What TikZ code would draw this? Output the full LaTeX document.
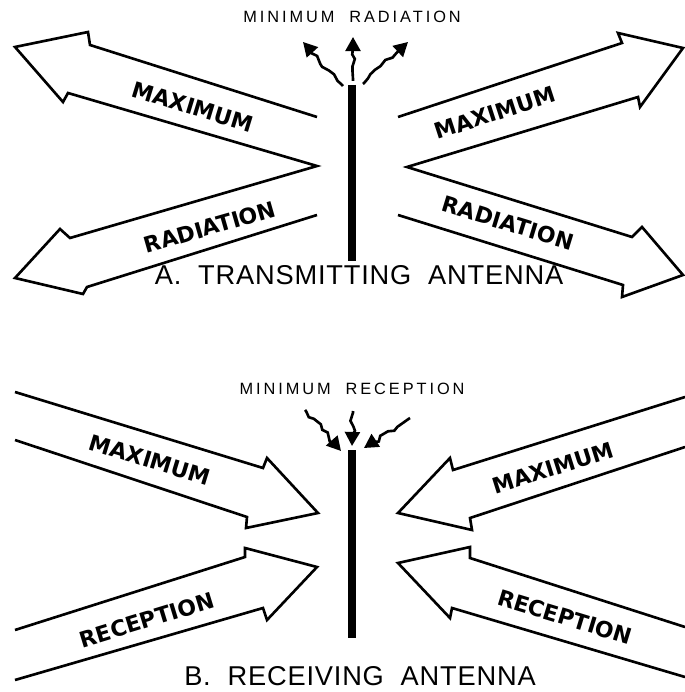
\documentclass[tikz,border=0pt]{standalone}
\usepackage{fontspec}
\setmainfont{Liberation Sans}
\newfontfamily\titlefont[LetterSpace=3]{Liberation Sans}
\newfontfamily\smallfont[LetterSpace=18]{Liberation Sans}
\newfontfamily\arrowfont{DejaVu Sans}
\usetikzlibrary{arrows.meta,decorations.pathmorphing}
\tikzset{
    outline_line/.style = {
        draw=black,
        line width=1.5pt,
        line join=miter
    },
    antenna_line/.style = {
        draw=black,
        line width=4.3pt
    },
    wave_line/.style = {
        draw=black,
        line width=1.5pt,
        decorate,
        decoration={random steps, segment length=3.5pt, amplitude=1.5pt, pre length=1pt, post length=6pt},
        -{Triangle[length=8pt,width=8.5pt]}
    },
    arrow_label/.style = {
        font=\arrowfont\bfseries\fontsize{12.5}{13}\selectfont,
        inner sep=0pt
    },
    title_label/.style = {
        font=\titlefont\fontsize{15.5}{16}\selectfont,
        inner sep=0pt
    },
    small_label/.style = {
        font=\smallfont\fontsize{9.3}{10}\selectfont,
        inner sep=0pt
    },
}

\begin{document}
\begin{tikzpicture}[x=0.02cm, y=-0.02cm]
                \useasboundingbox (0,0) rectangle (685,692);
                \pgfmathsetseed{7}
                \begin{scope}
                    \path[outline_line] (317,117) -- (90,45) -- (88,32) -- (15,47) -- (63,102) -- (68,93) -- (317,166) -- (70,238) -- (60,229) -- (15,278) -- (83,294) -- (87,287) -- (317,215);
                    \path[outline_line] (398,117) -- (622,43) -- (618,33) -- (683,48) -- (640,107) -- (638,97) -- (407,167) -- (632,237) -- (642,227) -- (683,275) -- (622,297) -- (623,285) -- (398,215);
                    \path[antenna_line] (352,85) -- (352,261);
                    \draw[wave_line] (343,86) -- (303,42);
                    \draw[wave_line] (353,81) -- (353,37);
                    \draw[wave_line] (363,84) -- (408,42);
                    \node[small_label] (minA) at (352,17) {MINIMUM\ \ RADIATION};
                    \node[arrow_label, rotate=-17] (maxAl) at (193,107) {MAXIMUM};
                    \node[arrow_label, rotate=16] (radAl) at (210,227) {RADIATION};
                    \node[arrow_label, rotate=18] (maxAr) at (495,113) {MAXIMUM};
                    \node[arrow_label, rotate=-17] (radAr) at (508,223) {RADIATION};
                    \node[title_label] (titleA) at (359,275) {A.\ \ TRANSMITTING\ \ ANTENNA};
                \end{scope}
                \begin{scope}
                    \path[outline_line] (15,392) -- (263,468) -- (267,458) -- (318,513) -- (246,528) -- (247,517) -- (15,440);
                    \path[outline_line] (15,630) -- (245,557) -- (245,548) -- (317,567) -- (267,620) -- (263,608) -- (15,680);
                    \path[outline_line] (685,397) -- (453,470) -- (450,458) -- (398,513) -- (472,530) -- (470,518) -- (685,447);
                    \path[outline_line] (685,627) -- (470,558) -- (470,547) -- (398,563) -- (450,618) -- (452,608) -- (685,677);
                    \path[antenna_line] (352,450) -- (352,638);
                    \draw[wave_line] (305,410) -- (341,451);
                    \draw[wave_line] (353,411) -- (352,446);
                    \draw[wave_line] (410,418) -- (364,448);
                    \node[small_label] (minB) at (352,389) {MINIMUM\ \ RECEPTION};
                    \node[arrow_label, rotate=-17] (maxBl) at (150,460) {MAXIMUM};
                    \node[arrow_label, rotate=17] (recBl) at (147,620) {RECEPTION};
                    \node[arrow_label, rotate=17.5] (maxBr) at (553,468) {MAXIMUM};
                    \node[arrow_label, rotate=-17] (recBr) at (565,617) {RECEPTION};
                    \node[title_label] (titleB) at (360,676) {B.\ \ RECEIVING\ \ ANTENNA};
                \end{scope}
            \end{tikzpicture}
\end{document}
